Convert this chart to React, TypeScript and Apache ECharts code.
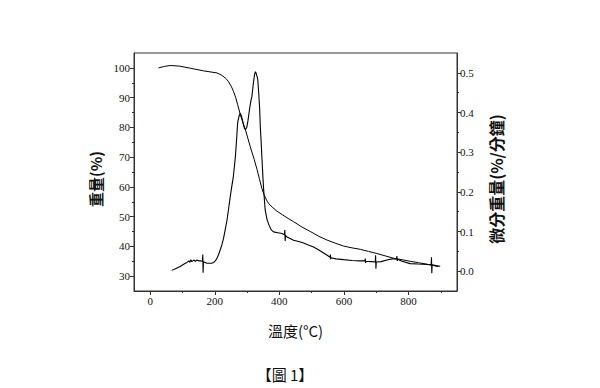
import React, { useEffect, useRef } from "react";
import * as echarts from "echarts";

// TG curve: temperature (°C) and weight (%)
const tgTemp = [26, 45, 62, 90, 124, 165, 207, 222, 235, 243, 252, 258, 265, 271, 281, 295, 310, 322, 331, 338, 346, 354, 362, 370, 380, 393, 410, 427, 444, 470, 496, 522, 548, 575, 599, 625, 651, 676, 702, 728, 754, 780, 805, 831, 857, 875, 893];
const tgWeight = [100.0, 100.5, 100.8, 100.6, 99.9, 99.0, 98.3, 97.5, 96.4, 95.3, 93.6, 92.1, 90.0, 87.6, 83.6, 79.2, 73.5, 69.3, 65.8, 62.8, 59.4, 57.0, 55.2, 54.0, 53.0, 51.8, 50.6, 49.4, 48.3, 46.5, 45.0, 43.4, 42.1, 41.0, 40.1, 39.5, 39.0, 38.3, 37.6, 36.8, 36.0, 35.5, 35.0, 34.5, 34.0, 33.6, 33.2];

// DTG curve: temperature (°C) and differential weight (%/min)
const dtgTemp = [67, 80, 93, 105, 114, 120, 123, 126, 129, 135, 140, 145, 150, 155, 162, 163, 164, 165, 176, 190, 197, 203, 207, 212, 217, 222, 227, 232, 238, 243, 248, 253, 257, 261, 264, 267, 271, 275, 279, 283, 288, 292, 295, 299, 303, 308, 312, 315, 319, 323, 326, 329, 333, 336, 339, 341, 344, 347, 351, 356, 362, 367, 375, 382, 395, 408, 416, 417, 418, 419, 424, 444, 460, 475, 490, 506, 517, 527, 537, 548, 557, 558, 559, 560, 575, 599, 625, 650, 665, 666, 667, 668, 685, 697, 698, 699, 700, 715, 733, 750, 763, 764, 765, 766, 780, 805, 830, 857, 870, 871, 872, 873, 885, 898];
const dtgRate = [0.002, 0.007, 0.012, 0.018, 0.022, 0.026, 0.022, 0.029, 0.024, 0.028, 0.025, 0.028, 0.026, 0.026, 0.025, 0.042, -0.004, 0.024, 0.020, 0.020, 0.022, 0.027, 0.033, 0.042, 0.054, 0.066, 0.082, 0.103, 0.129, 0.158, 0.188, 0.215, 0.235, 0.265, 0.29, 0.325, 0.375, 0.39, 0.398, 0.39, 0.372, 0.36, 0.357, 0.362, 0.38, 0.41, 0.43, 0.44, 0.47, 0.495, 0.503, 0.497, 0.485, 0.45, 0.41, 0.364, 0.32, 0.27, 0.21, 0.155, 0.13, 0.118, 0.104, 0.099, 0.097, 0.095, 0.092, 0.104, 0.076, 0.09, 0.086, 0.078, 0.075, 0.071, 0.066, 0.061, 0.056, 0.051, 0.046, 0.040, 0.035, 0.042, 0.03, 0.034, 0.031, 0.029, 0.027, 0.026, 0.026, 0.032, 0.021, 0.025, 0.024, 0.023, 0.04, 0.006, 0.023, 0.024, 0.028, 0.031, 0.031, 0.038, 0.026, 0.030, 0.025, 0.019, 0.018, 0.017, 0.016, 0.035, -0.005, 0.016, 0.014, 0.0125];

// Axis ticks
const xMajor = [0, 200, 400, 600, 800];
const xMinor = [100, 300, 500, 700, 900];
const wMajor = [30, 40, 50, 60, 70, 80, 90, 100];
const wMinor = [35, 45, 55, 65, 75, 85, 95];
const dMajor = [0, 0.1, 0.2, 0.3, 0.4, 0.5];
const dMinor = [0.05, 0.15, 0.25, 0.35, 0.45];

const xTitle = "溫度(°C)";
const wTitle = "重量(%)";
const dTitle = "微分重量(%/分鐘)";
const caption = "【圖 1】";

const AXIS_COLOR = "#333";
const LABEL_FONT = "Liberation Serif";
const CJK_FONT = "Noto Sans CJK TC";

export default function App() {
  const ref = useRef<HTMLDivElement>(null);

  useEffect(() => {
    if (!ref.current) return;
    const chart = echarts.init(ref.current, null, { renderer: "svg" });
    const tgData = tgTemp.map((t, i) => [t, tgWeight[i]]);
    const dtgData = dtgTemp.map((t, i) => [t, dtgRate[i]]);

    const labelStyle = { fontFamily: LABEL_FONT, fontSize: 11, color: "#111" };
    const lineStyle = { color: AXIS_COLOR, width: 1 };

    chart.setOption({
      animation: false,
      backgroundColor: "#fff",
      grid: {
        left: 134,
        right: 143,
        top: 53,
        bottom: 97,
        show: true,
        borderColor: AXIS_COLOR,
        borderWidth: 1,
        containLabel: false,
      },
      xAxis: [
        {
          type: "value",
          position: "bottom",
          min: -50,
          max: 950,
          splitLine: { show: false },
          axisLine: { show: true, onZero: false, lineStyle },
          axisTick: { show: true, customValues: xMajor, length: 4, lineStyle },
          axisLabel: { customValues: xMajor, margin: 4, ...labelStyle },
          name: xTitle,
          nameLocation: "middle",
          nameGap: 32,
          nameTextStyle: { fontFamily: CJK_FONT, fontSize: 15, color: "#111" },
        },
        {
          type: "value",
          position: "bottom",
          min: -50,
          max: 950,
          splitLine: { show: false },
          axisLine: { show: false, onZero: false },
          axisTick: { show: true, customValues: xMinor, length: 2, lineStyle },
          axisLabel: { show: false },
        },
      ],
      yAxis: [
        {
          type: "value",
          position: "left",
          min: 25,
          max: 105,
          splitLine: { show: false },
          axisLine: { show: true, onZero: false, lineStyle },
          axisTick: { show: true, customValues: wMajor, length: 4, lineStyle },
          axisLabel: { customValues: wMajor, margin: 4, ...labelStyle },
          name: wTitle,
          nameLocation: "middle",
          nameRotate: 90,
          nameGap: 25,
          nameTextStyle: {
            fontFamily: CJK_FONT,
            fontSize: 15,
            fontWeight: "bold",
            color: "#111",
            padding: [0, 14, 0, 0],
          },
        },
        {
          type: "value",
          position: "right",
          min: -0.05,
          max: 0.55,
          splitLine: { show: false },
          axisLine: { show: true, onZero: false, lineStyle },
          axisTick: { show: true, customValues: dMajor, length: 4, lineStyle },
          axisLabel: {
            customValues: dMajor,
            margin: 3,
            formatter: (v: number) => v.toFixed(1),
            ...labelStyle,
          },
          name: dTitle,
          nameLocation: "middle",
          nameRotate: 90,
          nameGap: 31,
          nameTextStyle: {
            fontFamily: CJK_FONT,
            fontSize: 16,
            fontWeight: "bold",
            color: "#111",
            padding: [0, 14, 0, 0],
          },
        },
        {
          type: "value",
          position: "left",
          min: 25,
          max: 105,
          splitLine: { show: false },
          axisLine: { show: false, onZero: false },
          axisTick: { show: true, customValues: wMinor, length: 2, lineStyle },
          axisLabel: { show: false },
        },
        {
          type: "value",
          position: "right",
          min: -0.05,
          max: 0.55,
          splitLine: { show: false },
          axisLine: { show: false, onZero: false },
          axisTick: { show: true, customValues: dMinor, length: 2, lineStyle },
          axisLabel: { show: false },
        },
      ],
      series: [
        {
          name: "TG",
          type: "line",
          xAxisIndex: 0,
          yAxisIndex: 0,
          data: tgData,
          showSymbol: false,
          symbol: "none",
          lineStyle: { color: "#000", width: 1 },
        },
        {
          name: "DTG",
          type: "line",
          xAxisIndex: 0,
          yAxisIndex: 1,
          data: dtgData,
          showSymbol: false,
          symbol: "none",
          lineStyle: { color: "#000", width: 1.1 },
        },
      ],
      graphic: [
        {
          type: "text",
          x: 285,
          y: 374,
          style: {
            text: caption,
            align: "center",
            verticalAlign: "middle",
            fontFamily: CJK_FONT,
            fontSize: 15,
            fill: "#111",
          },
        },
      ],
    });

    return () => chart.dispose();
  }, []);

  return (
    <div
      ref={ref}
      style={{ position: "absolute", left: 0, top: 0, width: 600, height: 388 }}
    />
  );
}
